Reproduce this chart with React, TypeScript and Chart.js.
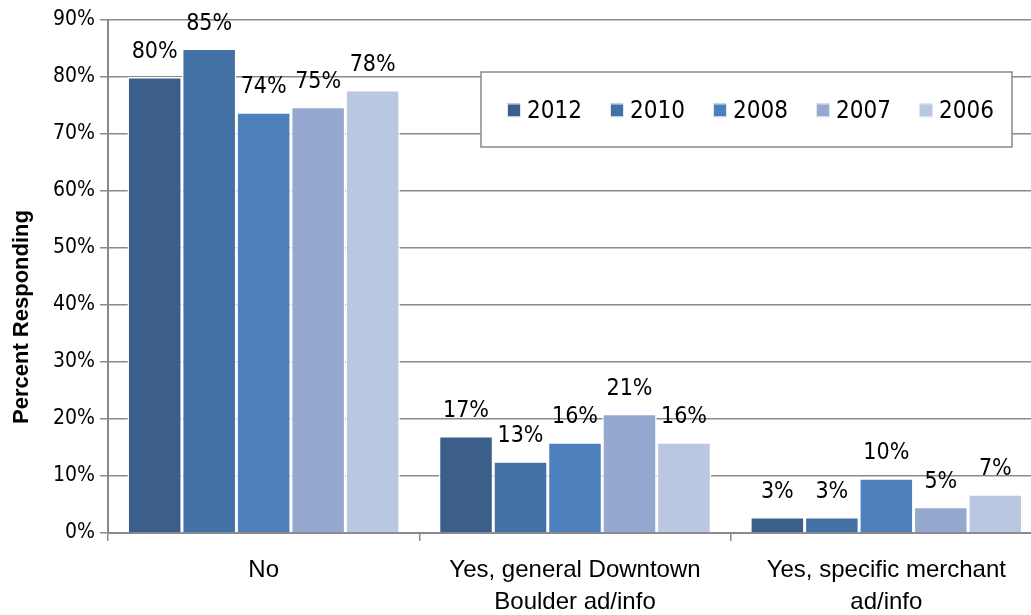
import React, { useEffect, useRef } from "react";
import { Chart, registerables } from "chart.js";

Chart.register(...registerables);

const categories: string[][] = [
  ["No"],
  ["Yes, general Downtown", "Boulder ad/info"],
  ["Yes, specific merchant", "ad/info"],
];
const seriesNames = ["2012", "2010", "2008", "2007", "2006"];
const values2012 = [80, 17, 2.8];
const values2010 = [85, 12.6, 2.8];
const values2008 = [73.8, 15.9, 9.6];
const values2007 = [74.8, 20.9, 4.6];
const values2006 = [77.7, 15.9, 6.8];
const seriesColors = ["#3B5E8B", "#4370A5", "#4D80BC", "#95A9D0", "#B9C7E0"];
const yTicks = [0, 10, 20, 30, 40, 50, 60, 70, 80, 90];
const yTitle = "Percent Responding";

const COND = "'DejaVu Sans Condensed', 'DejaVu Sans', sans-serif";
const SANS = "'Liberation Sans', Arial, sans-serif";

const labelPlugin = {
  id: "barLabels",
  afterDatasetsDraw(chart: any) {
    const ctx = chart.ctx;
    ctx.save();
    ctx.font = `23px ${COND}`;
    ctx.fillStyle = "#000";
    ctx.textAlign = "center";
    ctx.textBaseline = "alphabetic";
    chart.data.datasets.forEach((ds: any, i: number) => {
      const meta = chart.getDatasetMeta(i);
      meta.data.forEach((bar: any, j: number) => {
        const v = ds.data[j];
        ctx.fillText(Math.round(v) + "%", bar.x, bar.y - 19);
      });
    });
    ctx.restore();
  },
};

const titlePlugin = {
  id: "yTitle",
  afterDraw(chart: any) {
    const ctx = chart.ctx;
    ctx.save();
    ctx.translate(22, 317);
    ctx.rotate(-Math.PI / 2);
    ctx.font = `bold 22px ${SANS}`;
    ctx.fillStyle = "#000";
    ctx.textAlign = "center";
    ctx.textBaseline = "middle";
    ctx.fillText(yTitle, 0, 0);
    ctx.restore();
  },
};

const legendPlugin = {
  id: "boxLegend",
  afterDatasetsDraw(chart: any) {
    const ctx = chart.ctx;
    const x0 = 481, y0 = 72, w = 531, h = 75;
    ctx.save();
    ctx.fillStyle = "#fff";
    ctx.fillRect(x0, y0, w, h);
    ctx.strokeStyle = "#8a8a8a";
    ctx.lineWidth = 1.5;
    ctx.strokeRect(x0, y0, w, h);
    ctx.font = `24px ${COND}`;
    ctx.textBaseline = "middle";
    ctx.textAlign = "left";
    const cy = y0 + h / 2 + 1;
    seriesNames.forEach((name, i) => {
      const sx = x0 + 26 + i * 103;
      ctx.fillStyle = seriesColors[i];
      ctx.fillRect(sx, cy - 7, 13, 13);
      ctx.strokeStyle = "#dfe6f0";
      ctx.lineWidth = 1;
      ctx.strokeRect(sx + 0.5, cy - 6.5, 13, 13);
      ctx.fillStyle = "#000";
      ctx.fillText(name, sx + 20, cy + 1);
    });
    ctx.restore();
  },
};

export default function App() {
  const ref = useRef<HTMLCanvasElement | null>(null);
  useEffect(() => {
    if (!ref.current) return;
    const allValues = [values2012, values2010, values2008, values2007, values2006];
    const chart = new Chart(ref.current, {
      type: "bar",
      data: {
        labels: categories,
        datasets: seriesNames.map((n, i) => ({
          label: n,
          data: allValues[i],
          backgroundColor: seriesColors[i],
          borderColor: "#ffffff",
          borderWidth: 1.5,
          borderSkipped: "bottom",
          categoryPercentage: 0.875,
          barPercentage: 1,
        })),
      },
      options: {
        responsive: false,
        animation: false,
        layout: { padding: { top: 20, right: 0, bottom: 0, left: 0 } },
        plugins: {
          legend: { display: false },
          tooltip: { enabled: false },
        },
        scales: {
          x: {
            grid: {
              drawOnChartArea: false,
              drawTicks: true,
              tickLength: 8,
              color: "#8a8a8a",
              lineWidth: 1.5,
              offset: true,
            },
            border: { color: "#8a8a8a", width: 2 },
            ticks: {
              font: { family: SANS, size: 24, lineHeight: 1.32 },
              color: "#000",
              padding: 14,
              maxRotation: 0,
              autoSkip: false,
            },
            afterFit(scale: any) {
              scale.height = 82;
            },
          },
          y: {
            min: 0,
            max: 90,
            afterBuildTicks(scale: any) {
              scale.ticks = yTicks.map((v) => ({ value: v }));
            },
            grid: {
              color: "#8a8a8a",
              lineWidth: 1.5,
              tickLength: 8,
            },
            border: { color: "#8a8a8a", width: 2 },
            ticks: {
              font: { family: COND, size: 21 },
              color: "#000",
              padding: 5,
              callback: (v: any) => v + "%",
            },
            afterFit(scale: any) {
              scale.width = 108;
            },
          },
        },
      },
      plugins: [labelPlugin, legendPlugin, titlePlugin],
    });
    return () => chart.destroy();
  }, []);
  return (
    <div
      style={{
        position: "fixed",
        left: 0,
        top: 0,
        width: 1031,
        height: 615,
        overflow: "hidden",
        background: "#fff",
      }}
    >
      <canvas ref={ref} width={1042} height={615} style={{ display: "block" }} />
    </div>
  );
}
